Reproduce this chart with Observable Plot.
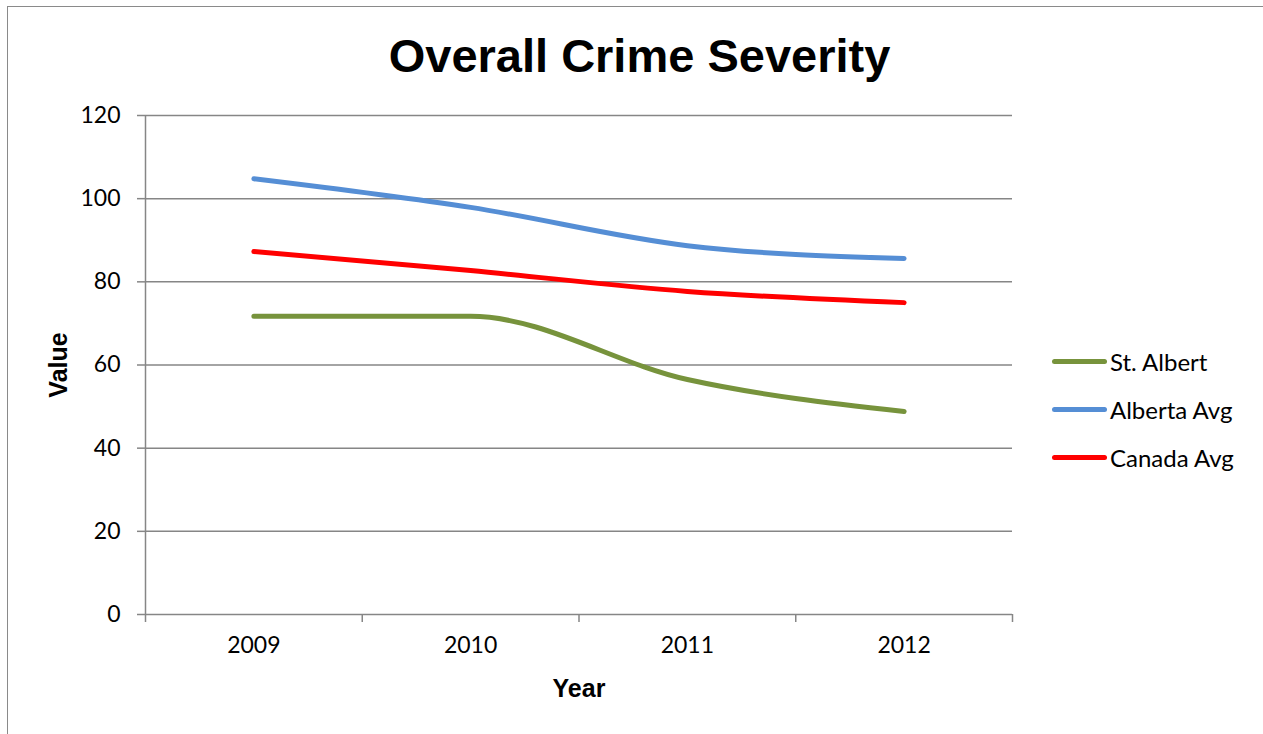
<!DOCTYPE html>
<html>
<head>
<meta charset="utf-8">
<script src="https://cdn.jsdelivr.net/npm/d3@7"></script>
<script src="https://cdn.jsdelivr.net/npm/@observablehq/plot@0.6"></script>
<style>
  html, body { margin: 0; padding: 0; background: #fff; }
  #wrap { position: relative; width: 1263px; height: 734px; overflow: hidden; background: #fff; }
  #frame { position: absolute; left: 7px; top: 6px; width: 1400px; height: 900px; border-left: 1.5px solid #8a8a8a; border-top: 1.5px solid #8a8a8a; }
  #chart { position: absolute; left: 0; top: 0; }
  #title { position: absolute; left: 8px; width: 1263px; top: 28px; text-align: center; font: bold 47px "Liberation Sans", Arial, sans-serif; color: #000; }
  .axtitle { position: absolute; font: bold 25px "Liberation Sans", Arial, sans-serif; color: #000; }
  #ylab { left: 58px; top: 365px; transform: translate(-50%, -50%) rotate(-90deg); }
  #xlab { left: 579px; top: 688px; transform: translate(-50%, -50%); }
  #legend { position: absolute; left: 1052px; top: 337px; font: 24px Lato, "Noto Sans", sans-serif; color: #000; }
  .item { display: flex; align-items: center; height: 48px; }
  .sw { width: 55px; height: 5px; border-radius: 3px; margin-right: 3px; }
</style>
</head>
<body>
<div id="wrap">
  <div id="frame"></div>
  <div id="chart"></div>
  <div id="title">Overall Crime Severity</div>
  <div id="ylab" class="axtitle">Value</div>
  <div id="xlab" class="axtitle">Year</div>
  <div id="legend"></div>
</div>
<script>
const years = [2009, 2010, 2011, 2012];
const seriesNames = ["St. Albert", "Alberta Avg", "Canada Avg"];
const seriesColors = ["#77933C", "#558ED5", "#FF0000"];
const stAlbert = [71.7, 71.7, 56.5, 48.8];
const albertaAvg = [104.8, 97.9, 88.7, 85.6];
const canadaAvg = [87.3, 82.7, 77.7, 75.0];
const yTicks = [0, 20, 40, 60, 80, 100, 120];

const seriesValues = [stAlbert, albertaAvg, canadaAvg];
const data = seriesNames.flatMap((name, i) =>
  years.map((yr, j) => ({ series: name, year: yr, value: seriesValues[i][j] })));
const bandEdges = d3.range(years.length + 1).map(i => years[0] - 0.5 + i);
const grid = "#868686";

const chart = Plot.plot({
  width: 1263,
  height: 734,
  marginLeft: 145,
  marginRight: 251,
  marginTop: 115,
  marginBottom: 120,
  style: { fontFamily: "Lato, 'Noto Sans', sans-serif", fontSize: "22px", color: "#000", background: "transparent" },
  x: { domain: [bandEdges[0], bandEdges[bandEdges.length - 1]] },
  y: { domain: [0, 120] },
  color: { domain: seriesNames, range: seriesColors },
  marks: [
    Plot.ruleY(yTicks, { stroke: grid, strokeWidth: 1.5 }),
    Plot.ruleX([bandEdges[0]], { stroke: grid, strokeWidth: 1.5 }),
    Plot.axisY({ ticks: yTicks, tickSize: 8, tickPadding: 17, stroke: grid, strokeWidth: 1.5, label: null, fill: "#000", fontSize: 23 }),
    Plot.axisX({ ticks: bandEdges, tickSize: 8, tickFormat: () => "", stroke: grid, strokeWidth: 1.5, label: null }),
    Plot.axisX({ ticks: years, tickSize: 0, tickPadding: 22, tickFormat: d => String(d), label: null, fill: "#000", fontSize: 23 }),
    Plot.line(data, { x: "year", y: "value", z: "series", stroke: "series", strokeWidth: 5, strokeLinecap: "round", strokeLinejoin: "round", curve: "monotone-x" })
  ]
});
document.getElementById("chart").appendChild(chart);

const legend = document.getElementById("legend");
seriesNames.forEach((name, i) => {
  const item = document.createElement("div");
  item.className = "item";
  const sw = document.createElement("div");
  sw.className = "sw";
  sw.style.background = seriesColors[i];
  const lab = document.createElement("span");
  lab.textContent = name;
  item.appendChild(sw);
  item.appendChild(lab);
  legend.appendChild(item);
});
</script>
</body>
</html>
